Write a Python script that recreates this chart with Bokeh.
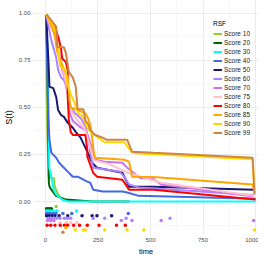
from bokeh.plotting import figure
from bokeh.models import FixedTicker, NumeralTickFormatter, Range1d
from bokeh.embed import file_html
from bokeh.resources import INLINE

# ---- data ----
series_names = ["Score 10", "Score 20", "Score 30", "Score 40", "Score 50", "Score 60",
                "Score 70", "Score 75", "Score 80", "Score 85", "Score 90", "Score 99"]

t_s10 = [2, 8, 15, 23, 42, 42, 51, 60, 80, 120]
s_s10 = [0.99, 0.40, 0.13, 0.127, 0.122, 0.09, 0.06, 0.04, 0.01, 0.0]
ev_s10 = [51]

t_s20 = [3, 8, 12, 16, 19, 28, 50, 97, 222, 400]
s_s20 = [0.99, 0.80, 0.50, 0.10, 0.08, 0.063, 0.03, 0.01, 0.0, 0.0]
ev_s20 = [5, 12, 20, 28]

t_s30 = [5, 12, 16, 18, 28, 40, 51, 80, 106, 1000]
s_s30 = [0.99, 0.70, 0.40, 0.18, 0.13, 0.06, 0.037, 0.01, 0.0, 0.0]
ev_s30 = [5, 15, 25, 40, 55, 148]

t_s40 = [3, 8, 13, 19, 28, 51, 65, 83, 106, 130, 153, 181, 199, 213, 227, 273, 366, 389, 444, 1000]
s_s40 = [0.99, 0.75, 0.45, 0.328, 0.259, 0.233, 0.206, 0.185, 0.159, 0.132, 0.132, 0.116,
         0.106, 0.10, 0.063, 0.053, 0.053, 0.048, 0.03, 0.015]
ev_s40 = [5, 20, 35, 50, 83, 125, 394]

t_s50 = [5, 9, 14, 19, 37, 51, 60, 74, 88, 106, 130, 144, 167, 199, 222, 245, 366, 398, 514, 991, 996]
s_s50 = [0.99, 0.857, 0.75, 0.61, 0.603, 0.556, 0.487, 0.46, 0.45, 0.418, 0.392, 0.37, 0.34,
         0.265, 0.206, 0.18, 0.153, 0.079, 0.079, 0.063, 0.06]
ev_s50 = [5, 15, 30, 45, 65, 106, 174, 222, 245, 315]

t_s60 = [5, 15, 28, 42, 51, 60, 74, 88, 97, 110, 120, 140, 170, 190, 205, 215, 227, 352, 375, 398, 444, 990]
s_s60 = [0.99, 0.93, 0.857, 0.80, 0.767, 0.70, 0.66, 0.645, 0.62, 0.55, 0.50, 0.47, 0.44, 0.40,
         0.33, 0.25, 0.18, 0.159, 0.132, 0.09, 0.075, 0.035]
ev_s60 = [14, 25, 40, 55, 70, 90, 105, 120, 227, 282, 384, 593]

t_s70 = [5, 20, 35, 50, 60, 75, 90, 105, 115, 130, 160, 190, 205, 213, 227, 236, 282, 366, 389, 450, 514, 551, 990]
s_s70 = [0.99, 0.95, 0.92, 0.86, 0.80, 0.72, 0.66, 0.58, 0.47, 0.43, 0.40, 0.38, 0.34, 0.312,
         0.259, 0.222, 0.212, 0.206, 0.18, 0.125, 0.12, 0.09, 0.026]
ev_s70 = [10, 25, 40, 361, 412, 551, 991]

t_s75 = [5, 25, 40, 57, 65, 80, 100, 115, 140, 190, 210, 230, 300, 400, 550, 990]
s_s75 = [0.99, 0.93, 0.90, 0.87, 0.80, 0.72, 0.62, 0.50, 0.45, 0.38, 0.30, 0.22, 0.20, 0.15, 0.10, 0.03]
ev_s75 = [70, 100, 120, 150]

t_s80 = [5, 28, 51, 65, 74, 79, 97, 106, 106, 111, 120, 130, 190, 199, 199, 227, 245, 366, 398, 514, 1000]
s_s80 = [0.995, 0.952, 0.91, 0.857, 0.815, 0.762, 0.741, 0.698, 0.556, 0.434, 0.37, 0.354, 0.354,
         0.275, 0.238, 0.153, 0.132, 0.116, 0.063, 0.063, 0.011]
ev_s80 = [8, 25, 45, 70, 90, 105, 134, 162, 199, 255, 338, 380]

t_s85 = [5, 15, 30, 45, 55, 70, 90, 105, 111, 115, 120, 190, 204, 215, 222, 230, 236, 375, 398, 412, 514, 986, 995]
s_s85 = [0.995, 0.97, 0.93, 0.88, 0.80, 0.75, 0.70, 0.66, 0.60, 0.53, 0.50, 0.47, 0.44, 0.40,
         0.34, 0.26, 0.233, 0.222, 0.212, 0.132, 0.13, 0.09, 0.05]
ev_s85 = [97]

t_s90 = [5, 30, 50, 60, 70, 95, 105, 120, 140, 155, 180, 195, 215, 240, 280, 375, 412, 444, 986, 995]
s_s90 = [0.995, 0.95, 0.90, 0.80, 0.72, 0.70, 0.62, 0.57, 0.52, 0.47, 0.45, 0.40, 0.37, 0.35,
         0.315, 0.315, 0.26, 0.255, 0.225, 0.045]
ev_s90 = [143, 181, 190, 282, 389, 468, 995]

t_s99 = [5, 28, 51, 56, 88, 97, 111, 130, 144, 153, 181, 190, 204, 213, 236, 273, 292, 389, 412, 514, 986, 995]
s_s99 = [0.995, 0.963, 0.93, 0.82, 0.82, 0.79, 0.69, 0.66, 0.61, 0.49, 0.49, 0.43, 0.41, 0.381,
         0.354, 0.339, 0.328, 0.328, 0.265, 0.259, 0.233, 0.037]
ev_s99 = [83]

x_ticks = [0, 250, 500, 750, 1000]
x_minor = [125, 375, 625, 875]
y_ticks = [0.0, 0.25, 0.50, 0.75, 1.0]
y_minor = [-0.125, 0.125, 0.375, 0.625, 0.875]

# ---- styles ----
palette = ["#9ACD32", "#006400", "#00FFFF", "#4169E1", "#191970", "#AB82FF",
           "#D070F0", "#FFC0CB", "#FF0000", "#FFA500", "#FFD700", "#CD853F"]

curves = [(t_s10, s_s10, ev_s10), (t_s20, s_s20, ev_s20), (t_s30, s_s30, ev_s30),
          (t_s40, s_s40, ev_s40), (t_s50, s_s50, ev_s50), (t_s60, s_s60, ev_s60),
          (t_s70, s_s70, ev_s70), (t_s75, s_s75, ev_s75), (t_s80, s_s80, ev_s80),
          (t_s85, s_s85, ev_s85), (t_s90, s_s90, ev_s90), (t_s99, s_s99, ev_s99)]

FONT = "Liberation Sans"

p = figure(width=258, height=258, output_backend="svg", toolbar_location=None,
           x_range=Range1d(-57, 1014), y_range=Range1d(-0.1755, 1.069),
           min_border_left=0, min_border_right=0, min_border_top=0, min_border_bottom=0)
p.outline_line_color = None
p.background_fill_color = "white"
p.border_fill_color = "white"

for (ts, ss, ev), name, col in zip(curves, series_names, palette):
    p.line(ts, ss, line_color=col, line_width=2, legend_label=name)

for i, ((ts, ss, ev), col) in enumerate(zip(curves, palette)):
    lvl = -0.026 - i * 0.0125
    p.scatter(ev, [lvl] * len(ev), size=3.5, fill_color=col, line_color=None)

# axes
p.xaxis.ticker = FixedTicker(ticks=x_ticks, minor_ticks=x_minor)
p.yaxis.ticker = FixedTicker(ticks=y_ticks, minor_ticks=y_minor)
p.yaxis.formatter = NumeralTickFormatter(format="0.00")
for ax in (p.xaxis, p.yaxis):
    ax.axis_line_color = None
    ax.major_tick_line_color = None
    ax.minor_tick_line_color = None
    ax.major_tick_out = 0
    ax.major_tick_in = 0
    ax.minor_tick_out = 0
    ax.minor_tick_in = 0
    ax.major_label_text_font = FONT
    ax.major_label_text_font_size = "6px"
    ax.major_label_text_color = "#4D4D4D"
    ax.major_label_standoff = 3
    ax.axis_label_text_font = FONT
    ax.axis_label_text_font_style = "normal"
    ax.axis_label_text_color = "#000000"
    ax.axis_label_standoff = 2
p.xaxis.axis_label = "time"
p.xaxis.axis_label_text_font_size = "7.5px"
p.yaxis.axis_label = "S(t)"
p.yaxis.axis_label_text_font_size = "9px"

for g in (p.xgrid, p.ygrid):
    g.grid_line_color = "#EBEBEB"
    g.grid_line_width = 1
    g.minor_grid_line_color = "#F2F2F2"
    g.minor_grid_line_width = 0.6

legend = p.legend[0]
legend.location = (180, 97)
legend.title = "RSF"
legend.title_text_font = FONT
legend.title_text_font_size = "6.5px"
legend.title_text_font_style = "normal"
legend.title_text_color = "#000000"
legend.title_standoff = 2
legend.label_text_font = FONT
legend.label_text_font_size = "6.5px"
legend.label_text_color = "#1A1A1A"
legend.label_height = 9
legend.glyph_height = 9
legend.glyph_width = 9
legend.label_standoff = 2
legend.spacing = 0
legend.padding = 2
legend.margin = 0
legend.border_line_color = None
legend.background_fill_color = "white"
legend.background_fill_alpha = 1.0

open("out.html", "w").write(file_html(p, INLINE))
